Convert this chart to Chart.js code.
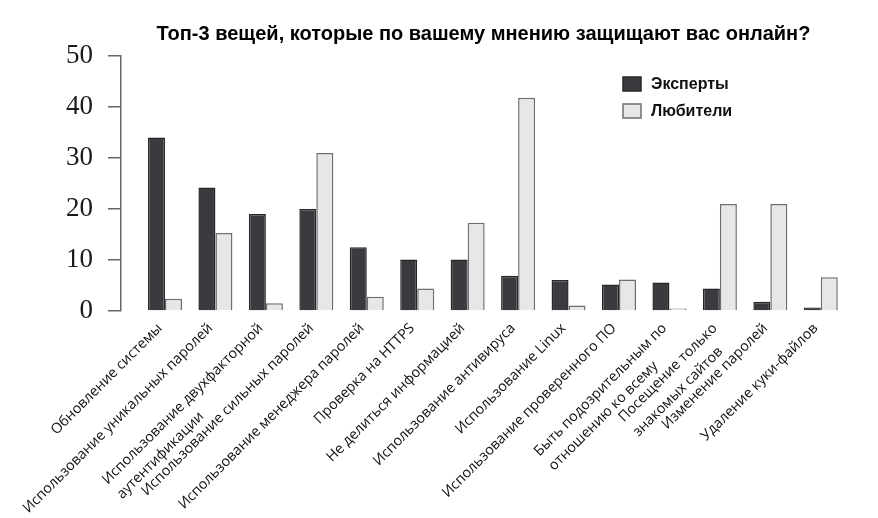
<!DOCTYPE html>
<html>
<head>
<meta charset="utf-8">
<script src="https://cdn.jsdelivr.net/npm/chart.js@4/dist/chart.umd.min.js"></script>
<style>
  html, body { margin: 0; padding: 0; background: #fff; }
  #wrap { width: 878px; height: 518px; }
</style>
</head>
<body>
<div id="wrap"><canvas id="c" width="878" height="518"></canvas></div>
<script>
const categories = [
  "Обновление системы",
  "Использование уникальных паролей",
  ["Использование двухфакторной", "аутентификации"],
  "Использование сильных паролей",
  "Использование менеджера паролей",
  "Проверка на HTTPS",
  "Не делиться информацией",
  "Использование антивируса",
  "Использование Linux",
  "Использование проверенного ПО",
  ["Быть подозрительным по", "отношению ко всему"],
  ["Посещение только", "знакомых сайтов"],
  "Изменение паролей",
  "Удаление куки-файлов"
];
const expertValues  = [34, 24.2, 19, 20, 12.5, 10.1, 10.1, 6.9, 6.1, 5.2, 5.6, 4.4, 1.8, 0.7];
const amateurValues = [2.4, 15.3, 1.5, 31, 2.8, 4.4, 17.3, 41.8, 1.1, 6.2, 0.5, 21, 21, 6.6];
const seriesNames = ["Эксперты", "Любители"];
const yTicks = [0, 10, 20, 30, 40, 50];
const titleText = "Топ-3 вещей, которые по вашему мнению защищают вас онлайн?";

const toPoints = arr => arr.map((v, i) => ({ x: i + 1, y: v }));

const legendPlugin = {
  id: 'insideLegend',
  afterDraw(chart, args, opts) {
    const ctx = chart.ctx;
    ctx.save();
    chart.data.datasets.forEach((ds, i) => {
      const y = opts.y + i * opts.rowGap;
      ctx.fillStyle = ds.backgroundColor;
      ctx.strokeStyle = ds.borderColor;
      ctx.lineWidth = 1.5;
      ctx.fillRect(opts.x, y, opts.boxW, opts.boxH);
      ctx.strokeRect(opts.x, y, opts.boxW, opts.boxH);
      ctx.fillStyle = '#111';
      ctx.font = 'bold 16px "Liberation Sans", Arial, sans-serif';
      ctx.textBaseline = 'middle';
      ctx.textAlign = 'left';
      ctx.fillText(ds.label, opts.x + opts.boxW + 10, y + opts.boxH / 2 + 0.5);
    });
    ctx.restore();
  }
};

// Rotated category labels: first line ends at the tick, further lines left-aligned with the first
const xLabelPlugin = {
  id: 'xLabels',
  afterDraw(chart, args, opts) {
    const ctx = chart.ctx;
    const xs = chart.scales.x;
    ctx.save();
    ctx.font = opts.font;
    ctx.fillStyle = opts.color;
    ctx.textBaseline = 'middle';
    categories.forEach((lab, i) => {
      const lines = Array.isArray(lab) ? lab : [lab];
      const px = xs.getPixelForValue(i + 1) + opts.dx;
      const py = xs.top + opts.dy;
      const w0 = ctx.measureText(lines[0]).width;
      ctx.save();
      ctx.translate(px, py);
      ctx.rotate(-Math.PI / 4);
      ctx.textAlign = 'left';
      lines.forEach((ln, k) => {
        ctx.fillText(ln, -w0, k * opts.lineGap);
      });
      ctx.restore();
    });
    ctx.restore();
  }
};

new Chart(document.getElementById('c'), {
  type: 'bar',
  data: {
    datasets: [
      {
        label: seriesNames[0],
        data: toPoints(expertValues),
        backgroundColor: '#3b3a3f',
        borderColor: '#262628',
        borderWidth: 1.5,
        barPercentage: 1.0,
        categoryPercentage: 0.674
      },
      {
        label: seriesNames[1],
        data: toPoints(amateurValues),
        backgroundColor: '#e9e6ea',
        borderColor: '#6e6e70',
        borderWidth: 1.5,
        barPercentage: 1.0,
        categoryPercentage: 0.674
      }
    ]
  },
  options: {
    responsive: false,
    animation: false,
    devicePixelRatio: 1,
    layout: { padding: { left: 0, right: 32, top: 0, bottom: 0 } },
    plugins: {
      legend: { display: false },
      tooltip: { enabled: false },
      title: {
        display: true,
        text: titleText,
        fullSize: false,
        color: '#000',
        font: { family: '"Liberation Sans", Arial, sans-serif', size: 20, weight: 'bold' },
        padding: { top: 22, bottom: 10 }
      },
      insideLegend: { x: 623, y: 77, boxW: 18, boxH: 14, rowGap: 27 },
      xLabels: { font: '14.3px "Open Sans", sans-serif', color: '#111', dx: -5, dy: 15, lineGap: 20.5 }
    },
    scales: {
      x: {
        type: 'linear',
        min: 0.128,
        max: 14.5,
        offset: false,
        grid: { display: false, drawTicks: false },
        border: { display: false },
        afterBuildTicks: scale => { scale.ticks = categories.map((_, i) => ({ value: i + 1 })); },
        afterFit: scale => { scale.height = 207; },
        ticks: { display: false }
      },
      y: {
        min: 0,
        max: 50,
        afterBuildTicks: scale => { scale.ticks = yTicks.map(v => ({ value: v })); },
        afterFit: scale => { scale.width = 121; },
        grid: { drawOnChartArea: false, drawTicks: true, tickLength: 13, color: '#666', lineWidth: 1.5 },
        border: { display: true, color: '#666', width: 1.5 },
        ticks: {
          padding: 15,
          color: '#1a1a1a',
          font: { family: '"Liberation Serif", "Times New Roman", serif', size: 27 }
        }
      }
    }
  },
  plugins: [legendPlugin, xLabelPlugin]
});
</script>
</body>
</html>
